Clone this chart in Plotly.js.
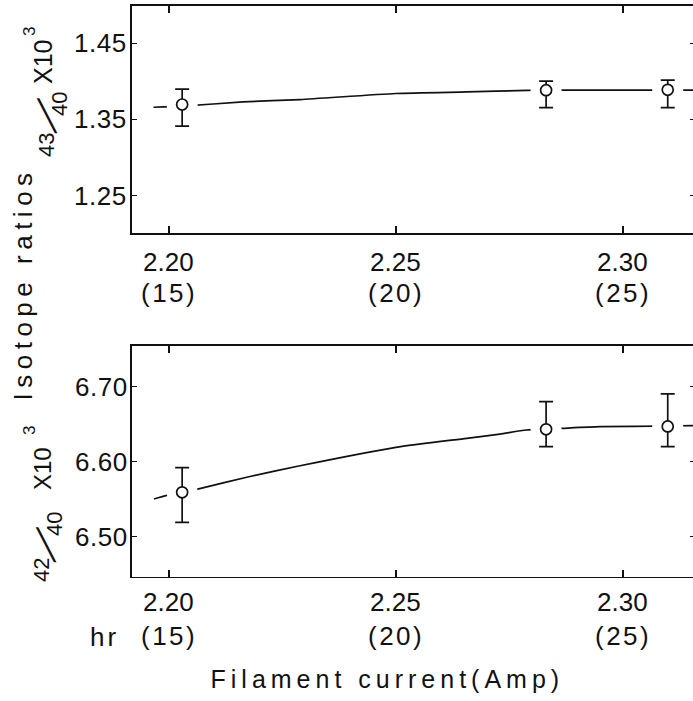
<!DOCTYPE html>
<html>
<head>
<meta charset="utf-8">
<script src="https://cdn.plot.ly/plotly-3.0.1.min.js"></script>
<style>
  html, body { margin: 0; padding: 0; background: #fff; }
  #wrap { width: 693px; height: 701px; overflow: hidden; position: relative; }
  #plot { width: 700px; height: 701px; }
</style>
<style id="spacing"></style>
</head>
<body>
<div id="wrap"><div id="plot"></div></div>
<script>
// ---------------- data ----------------
const xTickVals = [2.20, 2.25, 2.30];
const xTickNum = ['2.20', '2.25', '2.30'];
const xTickHours = ['(15)', '(20)', '(25)'];

const topYTickVals = [1.25, 1.35, 1.45];
const topYTickText = ['1.25', '1.35', '1.45'];
const botYTickVals = [6.50, 6.60, 6.70];
const botYTickText = ['6.50', '6.60', '6.70'];

// measured points (filament current, Amp)
const current = [2.2029, 2.2831, 2.3099];
const ratio43 = [1.3697, 1.3885, 1.3890];
const ratio43ErrPlus = [0.0201, 0.0118, 0.0126];
const ratio43ErrMinus = [0.0285, 0.0228, 0.0233];
const ratio42 = [6.5592, 6.6432, 6.6470];
const ratio42ErrPlus = [0.0328, 0.0368, 0.0435];
const ratio42ErrMinus = [0.0400, 0.0232, 0.0270];

// drawn trend curves
const curve43X = [2.1966, 2.2029, 2.2163, 2.2289, 2.2500, 2.2656, 2.2789, 2.2831, 2.3099, 2.3180];
const curve43Y = [1.3661, 1.3675, 1.3731, 1.3762, 1.3841, 1.3862, 1.3882, 1.3885, 1.3885, 1.3885];
const curve42X = [2.1967, 2.1993, 2.2061, 2.2176, 2.2286, 2.2500, 2.2656, 2.2729, 2.2788, 2.2866, 2.2950, 2.3099, 2.3180];
const curve42Y = [6.5503, 6.5547, 6.5632, 6.5800, 6.5943, 6.6192, 6.6312, 6.6369, 6.6423, 6.6445, 6.6467, 6.6476, 6.6485];

// ---------------- layout helpers ----------------
const W = 700, H = 701, ML = 132, MR = 5;
const PW = W - ML - MR;
const px = v => (v - ML) / PW;      // pixel x -> paper x
const py = v => (H - v) / H;        // pixel y -> paper y
const FONT = 'Liberation Sans, Arial, sans-serif';

function curveTrace(x, y, xa, ya) {
  return { x: x, y: y, xaxis: xa, yaxis: ya, mode: 'lines', type: 'scatter',
    line: { color: '#111', width: 1.7, shape: 'spline', smoothing: 0.6 },
    hoverinfo: 'skip', showlegend: false };
}
function maskTrace(x, y, xa, ya) {
  return { x: x, y: y, xaxis: xa, yaxis: ya, mode: 'markers', type: 'scatter',
    marker: { size: 31, color: '#fff', line: { width: 0 } },
    hoverinfo: 'skip', showlegend: false };
}
function pointTrace(x, y, ep, em, xa, ya) {
  return { x: x, y: y, xaxis: xa, yaxis: ya, mode: 'markers', type: 'scatter',
    marker: { symbol: 'circle', size: 11, color: '#fff', line: { color: '#111', width: 1.7 } },
    error_y: { type: 'data', symmetric: false, array: ep, arrayminus: em,
      color: '#111', thickness: 1.7, width: 7 },
    showlegend: false };
}

const traces = [
  curveTrace(curve43X, curve43Y, 'x', 'y'),
  maskTrace(current, ratio43, 'x', 'y'),
  pointTrace(current, ratio43, ratio43ErrPlus, ratio43ErrMinus, 'x', 'y'),
  curveTrace(curve42X, curve42Y, 'x2', 'y2'),
  maskTrace(current, ratio42, 'x2', 'y2'),
  pointTrace(current, ratio42, ratio42ErrPlus, ratio42ErrMinus, 'x2', 'y2')
];

const xRange = [2.19185, 2.31591];
function xAxis(anchor) {
  return { domain: [0, 1], range: xRange, anchor: anchor,
    showline: true, linecolor: '#111', linewidth: 1.6, mirror: 'ticks',
    ticks: 'inside', ticklen: 7, tickwidth: 1.5, tickcolor: '#111',
    tickvals: xTickVals, showticklabels: false,
    showgrid: false, zeroline: false, fixedrange: true };
}
function yAxis(anchor, dom, range, tv) {
  return { domain: dom, range: range, anchor: anchor,
    showline: true, linecolor: '#111', linewidth: 1.6, mirror: 'ticks',
    ticks: 'inside', ticklen: 5, tickwidth: 1.5, tickcolor: '#111',
    tickvals: tv, showticklabels: false,
    showgrid: false, zeroline: false, fixedrange: true };
}

const annotations = [];
const styled = []; // [index, css]
function addText(text, x, y, opts) {
  opts = opts || {};
  const a = {
    text: text, x: x, y: y,
    xref: opts.xref || 'paper', yref: opts.yref || 'paper',
    xanchor: opts.xanchor || 'center', yanchor: opts.yanchor || 'middle',
    showarrow: false, textangle: opts.angle || 0,
    font: { family: opts.family || FONT, size: opts.size || 26, color: '#111' }
  };
  annotations.push(a);
  if (opts.css) styled.push([annotations.length - 1, opts.css]);
}
const sp = v => `letter-spacing: ${v}px;`;

// x tick labels for both panels
for (let i = 0; i < xTickVals.length; i++) {
  addText(xTickNum[i], xTickVals[i], py(262), { xref: 'x', size: 26 });
  addText(xTickHours[i], xTickVals[i], py(293), { xref: 'x', size: 26, css: sp(2.5) });
  addText(xTickNum[i], xTickVals[i], py(602), { xref: 'x2', size: 26 });
  addText(xTickHours[i], xTickVals[i], py(636), { xref: 'x2', size: 26, css: sp(2.5) });
}
addText('hr', px(104), py(637), { size: 26, css: sp(3) });

// y tick labels
for (let i = 0; i < topYTickVals.length; i++) {
  addText(topYTickText[i], px(128), topYTickVals[i], { yref: 'y', xanchor: 'right', size: 26, css: sp(0.5) });
  addText(botYTickText[i], px(129), botYTickVals[i], { yref: 'y2', xanchor: 'right', size: 26, css: sp(0.5) });
}

// axis titles
addText('Filament current(Amp)', px(387), py(679), { size: 25, css: sp(5) });
addText('Isotope ratios', px(23), py(284), { size: 26, angle: -90, css: sp(5.5) });

// the ratio slash of the rotated labels (a rotated "/" reads as a falling diagonal)
const SLASH = '\u2572';
const SLASHFONT = 'DejaVu Sans, Noto Sans, sans-serif';

// top y label: 43/40 X10^3
addText('43', px(46), py(145), { size: 22, angle: -90 });
addText(SLASH, px(47), py(116), { size: 30, family: SLASHFONT });
addText('40', px(60), py(104), { size: 22, angle: -90 });
addText('X10', px(43), py(62), { size: 25, angle: -90 });
addText('3', px(29), py(32), { size: 17, angle: -90 });

// bottom y label: 42/40 X10^3
addText('42', px(41), py(570), { size: 22, angle: -90 });
addText(SLASH, px(46), py(545), { size: 30, family: SLASHFONT });
addText('40', px(54), py(524), { size: 22, angle: -90 });
addText('X10', px(42), py(469), { size: 24, angle: -90 });
addText('3', px(29), py(431), { size: 17, angle: -90 });

document.getElementById('spacing').textContent = styled.map(
  s => `.annotation[data-index="${s[0]}"] text { ${s[1]} }`).join('\n');

const layout = {
  width: W, height: H,
  margin: { l: ML, r: MR, t: 0, b: 0 },
  paper_bgcolor: '#fff', plot_bgcolor: '#fff',
  font: { family: FONT, color: '#111' },
  showlegend: false,
  xaxis: xAxis('y'),
  yaxis: yAxis('x', [1 - 233 / H, 1 - 6 / H], [1.201, 1.499], topYTickVals),
  xaxis2: xAxis('y2'),
  yaxis2: yAxis('x2', [1 - 576.7 / H, 1 - 346 / H], [6.4467, 6.7543], botYTickVals),
  annotations: annotations
};

Plotly.newPlot('plot', traces, layout, { displayModeBar: false, staticPlot: true });
</script>
</body>
</html>
